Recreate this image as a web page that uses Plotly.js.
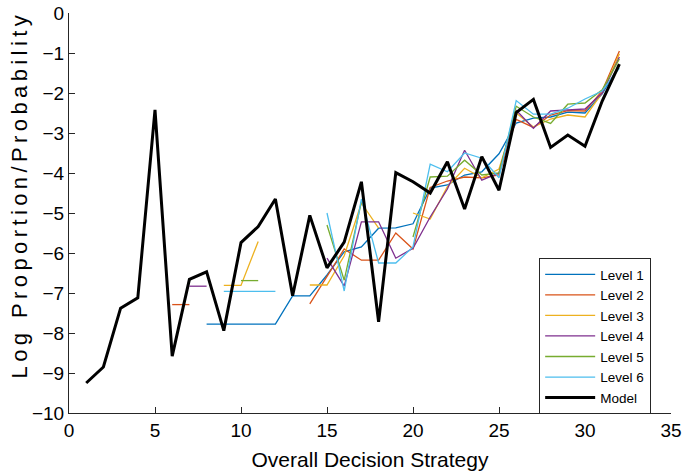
<!DOCTYPE html>
<html>
<head>
<meta charset="utf-8">
<script src="https://cdn.plot.ly/plotly-3.0.1.min.js"></script>
<style>
html,body{margin:0;padding:0;background:#fff;}
#chart{width:685px;height:476px;}
#chart .annotation-text{letter-spacing:4.4px;}
</style>
</head>
<body>
<div id="chart"></div>
<script>
var strategy = [1,2,3,4,5,6,7,8,9,10,11,12,13,14,15,16,17,18,19,20,21,22,23,24,25,26,27,28,29,30,31,32];
var level1 = [null,null,null,null,null,null,null,-7.78,-7.78,-7.78,-7.78,-7.78,-7.07,-7.07,-6.55,-5.97,-5.85,-5.38,-5.37,-5.27,-4.38,-4.3,-4.05,-3.97,-3.52,-2.75,-2.63,-2.6,-2.48,-2.5,-2.02,-1.3];
var level2 = [null,null,null,null,null,-7.29,-7.29,null,null,null,null,null,null,-7.27,-6.6,-5.9,-6.18,-6.18,-5.5,-5.9,-4.36,-4.2,-4.1,-4.12,-4.05,-2.66,-2.86,-2.55,-2.44,-2.45,-1.95,-0.95];
var level3 = [null,null,null,null,null,null,null,null,-6.81,-6.81,-5.71,null,null,-6.8,-6.8,-6.07,-4.75,-5.38,null,-5.0,-5.15,-4.34,-3.88,-4.12,-3.9,-2.5,-2.85,-2.65,-2.55,-2.6,-2.0,-1.02];
var level4 = [null,null,null,null,null,null,-6.83,-6.83,null,null,null,null,null,null,-6.13,-6.83,-5.22,-5.22,-6.13,-5.88,-5.1,-4.4,-3.43,-4.18,-4.0,-2.43,-2.88,-2.45,-2.42,-2.4,-2.0,-1.1];
var level5 = [null,null,null,null,null,null,null,null,null,-6.69,-6.69,null,null,null,-5.3,-6.68,-4.72,null,null,-5.6,-4.1,-4.08,-3.68,-4.05,-4.0,-2.33,-2.6,-2.76,-2.28,-2.25,-1.92,-1.15];
var level6 = [null,null,null,null,null,null,null,null,-6.96,-6.96,-6.96,-6.96,null,null,-5.0,-6.95,-4.65,-6.25,-6.25,-5.85,-3.78,-3.97,-3.5,-3.63,-4.12,-2.19,-2.53,-2.53,-2.38,-2.15,-1.95,-1.38];
var model = [-9.25,-8.85,-7.38,-7.12,-2.42,-8.58,-6.66,-6.47,-7.94,-5.74,-5.34,-4.65,-7.07,-5.06,-6.37,-5.73,-4.22,-7.72,-3.99,-4.22,-4.5,-3.72,-4.9,-3.59,-4.43,-2.49,-2.16,-3.36,-3.05,-3.33,-2.2,-1.28];

var seriesNames = ['Level 1','Level 2','Level 3','Level 4','Level 5','Level 6','Model'];
var seriesData = [level1, level2, level3, level4, level5, level6, model];
var colors = ['#0072BD','#D95319','#EDB120','#7E2F8E','#77AC30','#4DBEEE','#000000'];
var widths = [1.3,1.3,1.3,1.3,1.3,1.3,3];
var yTitle = 'Log Proportion/Probability';

var traces = seriesData.map(function(d, i){
  return {
    x: strategy, y: d, type: 'scatter', mode: 'lines',
    name: seriesNames[i],
    line: {color: colors[i], width: widths[i]},
    connectgaps: false
  };
});

var axisColor = '#262626';
var layout = {
  width: 685, height: 476,
  margin: {l: 69, r: 14, t: 13, b: 63},
  paper_bgcolor: '#fff', plot_bgcolor: '#fff',
  font: {family: 'Liberation Sans, Arial, sans-serif', color: axisColor},
  showlegend: true,
  xaxis: {
    range: [0, 35], tickmode: 'array', tickvals: [0,5,10,15,20,25,30,35],
    ticks: 'inside', ticklen: 6, tickcolor: axisColor,
    showline: true, linecolor: axisColor, linewidth: 1,
    showgrid: false, zeroline: false,
    tickfont: {size: 19, color: '#000'},
    title: {text: 'Overall Decision Strategy', font: {size: 21, color: '#000'}, standoff: 12}
  },
  yaxis: {
    range: [-10, 0], tickmode: 'array', tickvals: [-10,-9,-8,-7,-6,-5,-4,-3,-2,-1,0],
    ticks: 'inside', ticklen: 6, tickcolor: axisColor,
    showline: true, linecolor: axisColor, linewidth: 1,
    showgrid: false, zeroline: false,
    tickfont: {size: 19, color: '#000'}
  },
  annotations: [{
    text: yTitle, xref: 'paper', yref: 'paper',
    x: -0.081, y: 0.545, xanchor: 'center', yanchor: 'middle',
    textangle: -90, showarrow: false,
    font: {size: 22, color: '#000'}
  }],
  legend: {
    x: 0.781, y: 0.3875, xanchor: 'left', yanchor: 'top',
    bgcolor: '#fff', bordercolor: axisColor, borderwidth: 1,
    font: {size: 13.5, color: '#000'},
    itemwidth: 50,
    tracegroupgap: 0
  }
};

Plotly.newPlot('chart', traces, layout, {displayModeBar: false, staticPlot: true});
</script>
</body>
</html>
